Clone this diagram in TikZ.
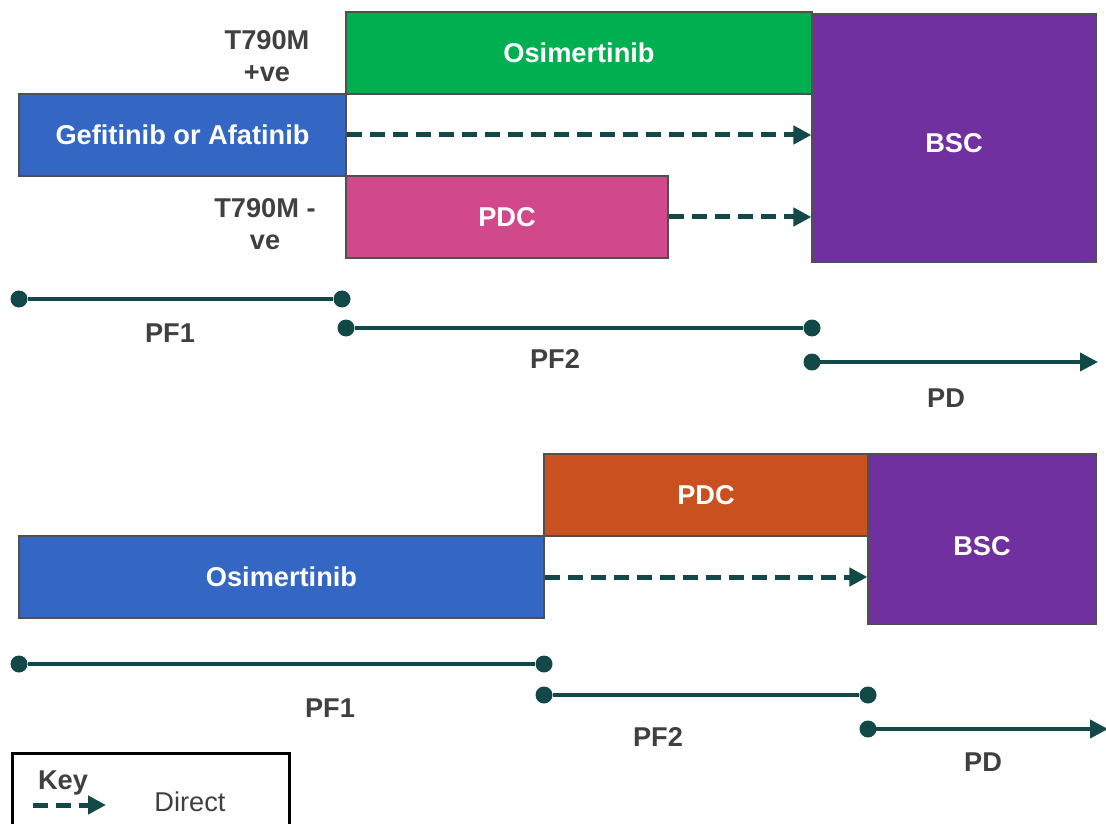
\documentclass[tikz,border=0pt]{standalone}
\usepackage{fontspec}
\setmainfont{Liberation Sans}
\usetikzlibrary{fit,arrows.meta}
\definecolor{cgreen}{HTML}{00B050}
\definecolor{cblue}{HTML}{3467C4}
\definecolor{cpink}{HTML}{D1498A}
\definecolor{cpurple}{HTML}{7030A0}
\definecolor{corange}{HTML}{C9511F}
\definecolor{cline}{HTML}{134848}
\definecolor{cedge}{HTML}{505050}
\definecolor{ctext}{HTML}{404040}
\tikzset{
  box/.style={draw=cedge, line width=0.6pt, inner sep=0pt},
  boxtext/.style={text=white, font=\fontsize{13.6}{16}\selectfont\bfseries},
  lbl/.style={text=ctext, font=\fontsize{13.6}{16}\selectfont\bfseries, align=center},
  direct/.style={draw=cline, line width=2.5pt, dash pattern=on 7.5pt off 4pt,
    -{Triangle[length=9pt,width=9pt]}},
  dot/.style={circle, fill=cline, inner sep=0pt, minimum size=8.5pt},
  span/.style={draw=cline, line width=2pt},
  spanarrow/.style={span, -{Triangle[length=9pt,width=9pt]}},
}
\begin{document}
\begin{tikzpicture}[x=0.5pt,y=-0.5pt]
\useasboundingbox (0,0) rectangle (1106,823);

% first-line treatment pathway
\node[box, fill=cgreen, fit={(346,12) (812,94)}] (osiA) {};
\node[box, fill=cblue, fit={(19,94) (346,176)}] (gef) {};
\node[box, fill=cpink, fit={(346,176) (668,258)}] (pdcA) {};
\node[box, fill=cpurple, fit={(812,14) (1096,262)}] (bscA) {};
\node[boxtext] (osiAt) at (osiA.center) {Osimertinib};
\node[boxtext] (geft) at (gef.center) {Gefitinib or Afatinib};
\node[boxtext] (pdcAt) at (pdcA.center) {PDC};
\node[boxtext] (bscAt) at ([yshift=-2.5pt]bscA.center) {BSC};
\node[lbl] (pos) at (267,56) {T790M\\+ve};
\node[lbl] (neg) at (265,224) {T790M -\\ve};
\draw[direct] (gef.east) -- (gef.east -| bscA.west);
\draw[direct] (pdcA.east) -- (pdcA.east -| bscA.west);

% health states along the time axis
\node[dot] (a1) at (19,299) {};
\node[dot] (a2) at (342,299) {};
\node[dot] (a3) at (346,328) {};
\node[dot] (a4) at (812,328) {};
\node[dot] (a5) at (812,362) {};
\coordinate (a6) at (1098,362);
\draw[span] (a1) -- (a2);
\draw[span] (a3) -- (a4);
\draw[spanarrow] (a5.center) -- (a6);
\node[lbl] (pf1A) at (170,333) {PF1};
\node[lbl] (pf2A) at (555,359) {PF2};
\node[lbl] (pdA) at (946,398) {PD};

% osimertinib first-line pathway
\node[box, fill=corange, fit={(544,454) (868,536)}] (pdcB) {};
\node[box, fill=cblue, fit={(19,536) (544,618)}] (osiB) {};
\node[box, fill=cpurple, fit={(868,454) (1096,624)}] (bscB) {};
\node[boxtext] (pdcBt) at (pdcB.center) {PDC};
\node[boxtext] (osiBt) at (osiB.center) {Osimertinib};
\node[boxtext] (bscBt) at ([yshift=-3.5pt]bscB.center) {BSC};
\draw[direct] (osiB.east) -- (osiB.east -| bscB.west);

\node[dot] (b1) at (19,664) {};
\node[dot] (b2) at (544,664) {};
\node[dot] (b3) at (544,695) {};
\node[dot] (b4) at (868,695) {};
\node[dot] (b5) at (868,729) {};
\coordinate (b6) at (1108,729);
\draw[span] (b1) -- (b2);
\draw[span] (b3) -- (b4);
\draw[spanarrow] (b5.center) -- (b6);
\node[lbl] (pf1B) at (330,708) {PF1};
\node[lbl] (pf2B) at (658,737) {PF2};
\node[lbl] (pdB) at (983,762) {PD};

% legend
\node[draw=black, line width=1.5pt, fit={(12,753) (289,840)}, inner sep=0pt] (key) {};
\node[lbl, anchor=west] (keyt) at (31,783) {Key};
\coordinate (k1) at (33,805);
\coordinate (k2) at (106,805);
\draw[direct] (k1) -- (k2);
\node[text=ctext, font=\fontsize{13.6}{16}\selectfont] (dir) at (190,802) {Direct};
\end{tikzpicture}
\end{document}
